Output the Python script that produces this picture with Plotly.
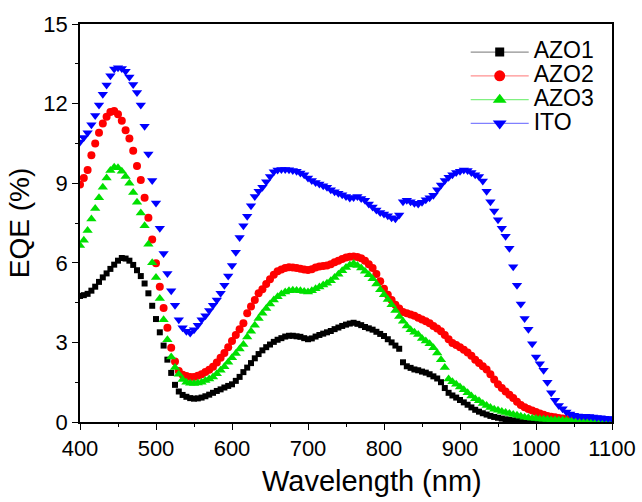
import numpy as np
import plotly.graph_objects as go

# Wavelength grid (nm)
wavelength = np.arange(400, 1101, 5)

azo1 = [4.75, 4.78, 4.83, 4.95, 5.10, 5.28, 5.45, 5.60, 5.77, 5.93,
        6.08, 6.18, 6.16, 6.08, 5.92, 5.72, 5.50, 5.22, 4.85, 4.38,
        3.88, 3.38, 2.88, 2.35, 1.85, 1.40, 1.15, 1.02, 0.95, 0.90,
        0.88, 0.89, 0.92, 0.97, 1.03, 1.10, 1.17, 1.23, 1.30, 1.36,
        1.42, 1.55, 1.70, 1.88, 2.05, 2.22, 2.40, 2.56, 2.70, 2.82,
        2.92, 3.02, 3.10, 3.16, 3.22, 3.25, 3.25, 3.23, 3.21, 3.16,
        3.12, 3.15, 3.22, 3.28, 3.33, 3.38, 3.43, 3.50, 3.56, 3.62,
        3.67, 3.71, 3.74, 3.70, 3.65, 3.58, 3.53, 3.48, 3.40, 3.32,
        3.24, 3.12, 3.00, 2.88, 2.76, 2.25, 2.10, 2.04, 1.98, 1.95,
        1.90, 1.86, 1.80, 1.72, 1.64, 1.50, 1.28, 1.10, 1.00, 0.92,
        0.83, 0.74, 0.65, 0.55, 0.46, 0.39, 0.33, 0.28, 0.23, 0.19,
        0.16, 0.13, 0.10, 0.08, 0.06, 0.05, 0.04, 0.03, 0.02, 0.02,
        0.01, 0.01, 0.01, 0.01, 0.01, 0.01, 0.01, 0.01, 0.01, 0.01,
        0.01, 0.01, 0.01, 0.01, 0.01, 0.01, 0.01, 0.01, 0.01, 0.01,
        0.01]

azo2 = [8.95, 9.20, 9.50, 10.05, 10.50, 10.90, 11.25, 11.50, 11.68, 11.72,
        11.60, 11.35, 11.00, 10.68, 10.22, 9.65, 9.12, 8.45, 7.70, 6.88,
        5.98, 5.10, 4.30, 3.55, 2.80, 2.28, 1.92, 1.78, 1.73, 1.70,
        1.70, 1.74, 1.80, 1.88, 1.97, 2.08, 2.24, 2.42, 2.60, 2.82,
        3.05, 3.28, 3.50, 3.72, 4.10, 4.35, 4.60, 4.85, 5.00, 5.20,
        5.38, 5.55, 5.68, 5.75, 5.80, 5.83, 5.82, 5.80, 5.78, 5.75,
        5.73, 5.76, 5.82, 5.86, 5.88, 5.90, 5.95, 6.02, 6.08, 6.14,
        6.20, 6.23, 6.24, 6.22, 6.17, 6.08, 5.95, 5.80, 5.58, 5.30,
        5.02, 4.80, 4.60, 4.42, 4.28, 4.15, 4.10, 4.05, 4.00, 3.93,
        3.86, 3.80, 3.72, 3.62, 3.52, 3.42, 3.28, 3.12, 2.98, 2.90,
        2.82, 2.72, 2.62, 2.50, 2.35, 2.22, 2.10, 1.98, 1.80, 1.60,
        1.42, 1.28, 1.15, 1.03, 0.90, 0.76, 0.64, 0.56, 0.49, 0.43,
        0.38, 0.32, 0.27, 0.23, 0.20, 0.18, 0.15, 0.13, 0.11, 0.08,
        0.06, 0.05, 0.04, 0.04, 0.03, 0.03, 0.03, 0.02, 0.02, 0.02,
        0.02]

azo3 = [6.65, 6.85, 7.22, 7.65, 8.05, 8.45, 8.85, 9.20, 9.48, 9.60,
        9.58, 9.45, 9.25, 9.00, 8.65, 8.28, 7.88, 7.40, 6.70, 6.00,
        5.45, 4.65, 3.85, 3.10, 2.45, 2.05, 1.80, 1.60, 1.50, 1.46,
        1.45, 1.47, 1.50, 1.56, 1.62, 1.70, 1.82, 1.95, 2.08, 2.25,
        2.42, 2.58, 2.75, 2.92, 3.20, 3.42, 3.65, 3.90, 4.10, 4.28,
        4.45, 4.60, 4.72, 4.82, 4.90, 4.95, 4.97, 4.96, 4.95, 4.92,
        4.90, 4.95, 5.02, 5.09, 5.16, 5.23, 5.32, 5.45, 5.57, 5.70,
        5.82, 5.92, 5.97, 5.90, 5.80, 5.68, 5.55, 5.40, 5.20, 4.98,
        4.80, 4.62, 4.42, 4.20, 3.98, 3.80, 3.62, 3.48, 3.38, 3.30,
        3.15, 3.05, 2.95, 2.80, 2.60, 2.35, 2.05, 1.62, 1.52, 1.42,
        1.32, 1.22, 1.10, 0.98, 0.88, 0.80, 0.70, 0.62, 0.55, 0.48,
        0.44, 0.40, 0.36, 0.32, 0.28, 0.25, 0.22, 0.18, 0.16, 0.14,
        0.13, 0.11, 0.10, 0.09, 0.08, 0.08, 0.07, 0.07, 0.06, 0.06,
        0.06, 0.05, 0.05, 0.05, 0.05, 0.05, 0.04, 0.04, 0.04, 0.04,
        0.04]

ito = [10.55, 10.72, 10.90, 11.20, 11.55, 11.95, 12.35, 12.70, 13.05, 13.30,
       13.35, 13.32, 13.22, 13.00, 12.72, 12.42, 11.95, 11.15, 10.10, 9.10,
       8.25, 7.30, 6.35, 5.60, 4.95, 4.40, 3.85, 3.55, 3.42, 3.35,
       3.48, 3.65, 3.85, 4.00, 4.20, 4.40, 4.60, 4.85, 5.15, 5.50,
       5.90, 6.40, 6.95, 7.40, 7.75, 8.15, 8.50, 8.70, 8.85, 9.05,
       9.25, 9.43, 9.50, 9.52, 9.52, 9.51, 9.48, 9.45, 9.38, 9.32,
       9.20, 9.10, 9.03, 8.97, 8.90, 8.85, 8.75, 8.68, 8.62, 8.56,
       8.50, 8.44, 8.46, 8.50, 8.42, 8.36, 8.22, 8.10, 7.99, 7.90,
       7.84, 7.77, 7.70, 7.66, 7.80, 8.30, 8.36, 8.30, 8.24, 8.22,
       8.28, 8.38, 8.45, 8.55, 8.75, 8.93, 9.10, 9.22, 9.32, 9.40,
       9.45, 9.50, 9.48, 9.40, 9.32, 9.25, 9.08, 8.70, 8.30, 7.95,
       7.62, 7.30, 7.00, 6.55, 5.85, 5.15, 4.45, 3.90, 3.50, 2.95,
       2.45, 2.20, 1.95, 1.50, 1.10, 0.82, 0.62, 0.50, 0.38, 0.30,
       0.25, 0.23, 0.22, 0.22, 0.21, 0.19, 0.17, 0.16, 0.14, 0.13,
       0.12]

series_names = ["AZO1", "AZO2", "AZO3", "ITO"]
series_values = [azo1, azo2, azo3, ito]
marker_colors = ["#000000", "#ff0000", "#00e000", "#0000ff"]
line_colors = ["#909090", "#ff9090", "#80f080", "#8080ff"]
symbols = ["square", "circle", "triangle-up", "triangle-down"]
sizes = [6, 8, 9, 9]

fig = go.Figure()

for name, vals, mc, sym, sz in zip(series_names, series_values, marker_colors, symbols, sizes):
    fig.add_trace(go.Scatter(
        x=wavelength, y=vals, mode="markers", name=name, showlegend=False,
        marker=dict(symbol=sym, size=sz, color=mc, line=dict(width=0)),
    ))

# Legend entries drawn as line + symbol; the larger label font is set inline so
# the rows stay compact
for name, mc, lc, sym, sz in zip(series_names, marker_colors, line_colors, symbols, sizes):
    fig.add_trace(go.Scatter(
        x=[None], y=[None], mode="lines+markers",
        name=f"<span style='font-size:23px'>{name}</span>",
        line=dict(color=lc, width=1.2),
        marker=dict(symbol=sym, size=sz + 3, color=mc, line=dict(width=0)),
    ))

font_family = "Liberation Sans, Arial, sans-serif"

fig.update_layout(
    width=642, height=502,
    margin=dict(l=80, r=30, t=24, b=80),
    paper_bgcolor="white", plot_bgcolor="white",
    font=dict(family=font_family, color="black", size=22),
    legend=dict(
        x=0.725, y=0.972, xanchor="left", yanchor="top",
        bgcolor="rgba(0,0,0,0)", borderwidth=0,
        font=dict(size=16, family=font_family),
        itemwidth=58, tracegroupgap=0,
    ),
    xaxis=dict(
        range=[400, 1100], tickmode="linear", tick0=400, dtick=100,
        showgrid=False, zeroline=False, automargin=False,
        showline=True, linecolor="black", linewidth=1.5, mirror=True,
        ticks="outside", ticklen=6, tickwidth=1.2, tickcolor="black",
        minor=dict(ticks="outside", ticklen=3, tickwidth=1, tickcolor="black", dtick=50, tick0=400),
        tickfont=dict(size=22),
    ),
    yaxis=dict(
        range=[0, 15], tickmode="linear", tick0=0, dtick=3,
        showgrid=False, zeroline=False, automargin=False,
        showline=True, linecolor="black", linewidth=1.5, mirror=True,
        ticks="outside", ticklen=6, tickwidth=1.2, tickcolor="black",
        minor=dict(ticks="outside", ticklen=3, tickwidth=1, tickcolor="black", dtick=1.5, tick0=0),
        tickfont=dict(size=22),
        title=dict(text="EQE (%)", font=dict(size=28), standoff=6),
    ),
    annotations=[
        dict(text="Wavelength (nm)", xref="paper", yref="paper",
             x=0.549, y=-0.104, xanchor="center", yanchor="top",
             showarrow=False, font=dict(size=29, family=font_family)),
    ],
)

fig.write_html("out.html")
